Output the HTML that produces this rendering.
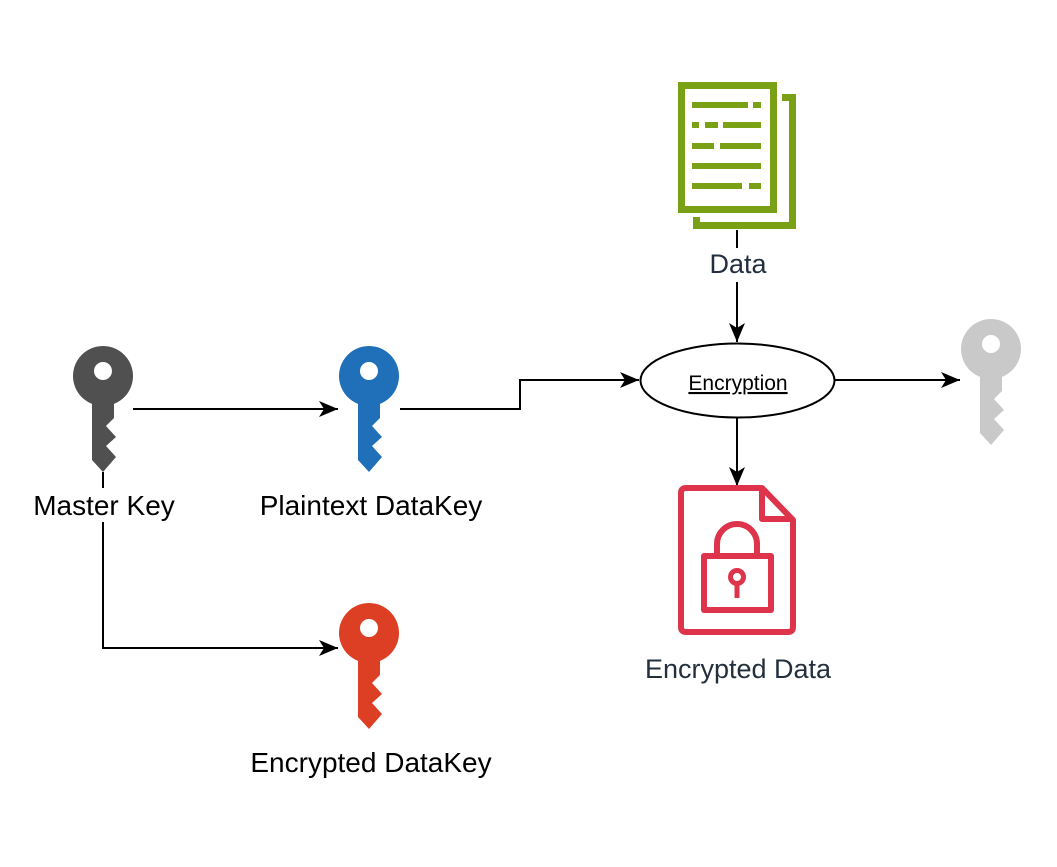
<!DOCTYPE html>
<html><head><meta charset="utf-8"><style>
html,body{margin:0;padding:0;background:#fff;}
svg{display:block;}
text{font-family:"Liberation Sans",Arial,sans-serif;}
</style></head><body>
<svg width="1057" height="867" viewBox="0 0 1057 867" xmlns="http://www.w3.org/2000/svg">
<defs>
<marker id="ah" markerWidth="20" markerHeight="18" refX="19" refY="8" orient="auto" markerUnits="userSpaceOnUse" viewBox="0 0 20 16">
<path d="M0,0 L19,8 L0,16 L5,8 Z" fill="#000"/>
</marker>
<g id="key">
<path fill-rule="evenodd" d="M-11,27.9 A30,30 0 1 1 11,27.9 L11,42 L3,50 L13,61 L3,70 L13,81 L0,96 L-11,84 Z M-9,-5 A9,9 0 1 0 9,-5 A9,9 0 1 0 -9,-5 Z"/>
</g>
</defs>
<rect width="1057" height="867" fill="#fff"/>

<use href="#key" x="103" y="376" fill="#505050"/>
<use href="#key" x="369" y="376" fill="#1F70B8"/>
<use href="#key" x="369" y="633" fill="#DD3F24"/>
<use href="#key" x="991" y="349" fill="#C9C9C9"/>

<g stroke="#000" stroke-width="2" fill="none">
<path d="M133,409 L338,409" marker-end="url(#ah)"/>
<path d="M400,409 L520,409 L520,380 L639,380" marker-end="url(#ah)"/>
<path d="M737,230 L737,248"/>
<path d="M737,282 L737,342" marker-end="url(#ah)"/>
<path d="M835,380 L960,380" marker-end="url(#ah)"/>
<path d="M737,418 L737,486" marker-end="url(#ah)"/>
<path d="M103,472 L103,488"/>
<path d="M103,522 L103,648 L338,648" marker-end="url(#ah)"/>
</g>

<ellipse cx="737.5" cy="380.5" rx="97" ry="37" fill="#fff" stroke="#000" stroke-width="2"/>
<text x="738" y="390" font-size="21" text-anchor="middle" text-decoration="underline" fill="#000">Encryption</text>

<g stroke="#7AA116" fill="none" stroke-width="7">
<rect x="681.5" y="85.5" width="92" height="124"/>
<path d="M782,97.5 L792.5,97.5 L792.5,225.5 L696.5,225.5 L696.5,217"/>
</g>
<g stroke="#7AA116" stroke-width="6">
<path d="M692,105 H748 M753,105 H761"/>
<path d="M692,125 H699 M705,125 H718 M723,125 H761"/>
<path d="M692,146 H714 M720,146 H761"/>
<path d="M692,166 H761"/>
<path d="M692,186 H742 M749,186 H761"/>
</g>

<g stroke="#DD344C" fill="none" stroke-width="6" stroke-linejoin="round">
<path d="M686,488 L762,488 L793,520 L793,627 Q793,632 788,632 L686,632 Q681,632 681,627 L681,493 Q681,488 686,488 Z"/>
<path d="M762,488 L762,519 L793,519"/>
<rect x="704" y="556" width="67" height="54"/>
<path d="M717,556 L717,544 A20,20 0 0 1 757,544 L757,556"/>
<circle cx="737" cy="577" r="6.5" stroke-width="5"/>
<path d="M737,583 L737,598" stroke-width="5"/>
</g>

<text x="104" y="515" font-size="28" text-anchor="middle" fill="#000">Master Key</text>
<text x="371" y="515" font-size="28" text-anchor="middle" fill="#000">Plaintext DataKey</text>
<text x="371" y="772" font-size="28" text-anchor="middle" fill="#000">Encrypted DataKey</text>
<text x="738" y="273" font-size="27" text-anchor="middle" fill="#232F3E">Data</text>
<text x="738" y="678" font-size="27" text-anchor="middle" fill="#232F3E">Encrypted Data</text>
</svg>
</body></html>
